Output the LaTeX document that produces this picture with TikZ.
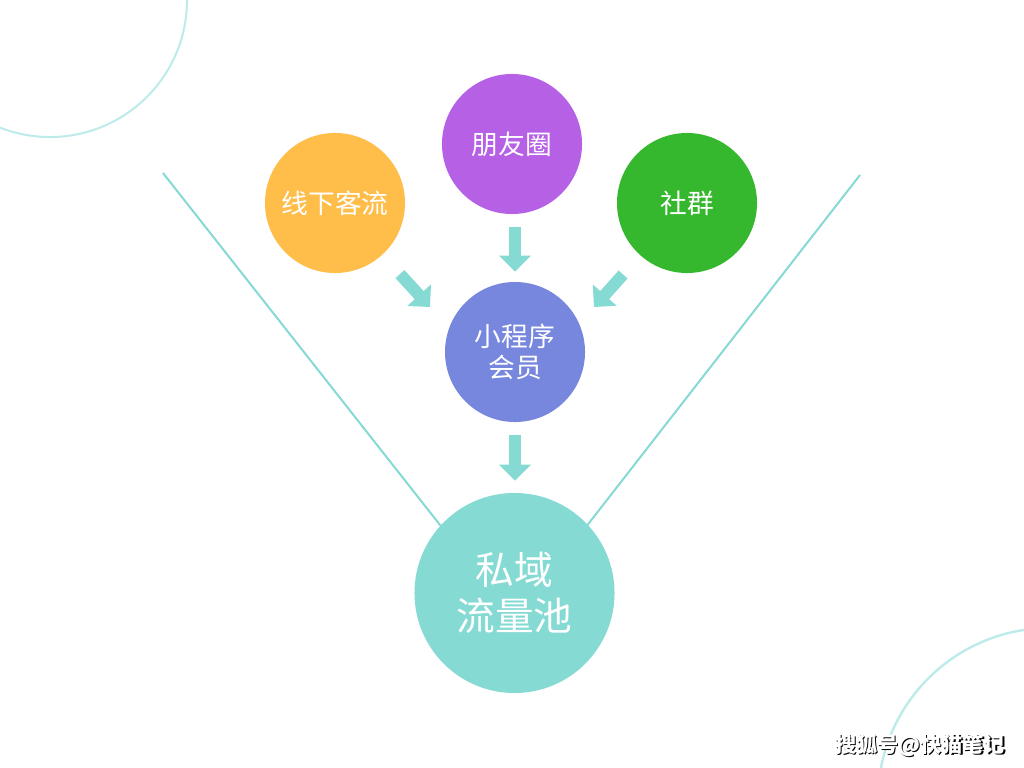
\documentclass[tikz,border=0pt]{standalone}
\usepackage{fontspec}
\setmainfont{Noto Sans CJK SC}
\usetikzlibrary{arrows.meta}
\definecolor{friendpurple}{HTML}{B660E6}
\definecolor{shoporange}{HTML}{FFBD4A}
\definecolor{groupgreen}{HTML}{36B82E}
\definecolor{memberblue}{HTML}{7787DD}
\definecolor{poolteal}{HTML}{85DAD3}
\definecolor{ringteal}{HTML}{BDEBEA}

\begin{document}
\begin{tikzpicture}[x=0.025cm, y=-0.025cm,
  bubble/.style={circle, minimum size=3.5cm, inner sep=0pt, text=white,
    align=center, font=\fontsize{19}{22}\selectfont},
  flow/.style={draw=poolteal, line width=0.3cm,
    -{Triangle[width=0.775cm, length=0.4cm]}},
  funnel/.style={draw=poolteal, line width=0.05cm}]
  \fill[white] (0,0) rectangle (1024,768);
  \useasboundingbox (0,0) rectangle (1024,768);
  % corner rings
  \begin{scope}
    \clip (0,0) rectangle (1024,768);
    \draw[ringteal, line width=0.05cm] (50,0) circle[radius=3.425cm];
    \draw[ringteal, line width=0.06cm] (1050,800) circle[radius=4.3cm];
  \end{scope}
  % funnel sides
  \coordinate (leftTop) at (163,173);
  \coordinate (leftEnd) at (455,544);
  \coordinate (rightTop) at (860,175);
  \coordinate (rightEnd) at (575,541);
  \draw[funnel] (leftTop) -- (leftEnd);
  \draw[funnel] (rightTop) -- (rightEnd);
  % bubbles
  \node[bubble, fill=friendpurple] (pyq) at (512,144) {朋友圈};
  \node[bubble, fill=shoporange] (xxkl) at (335,203) {线下客流};
  \node[bubble, fill=groupgreen] (sq) at (687,203) {社群};
  \node[bubble, fill=memberblue] (xcx) at (515,352) {小程序\\会员};
  \node[bubble, fill=poolteal, minimum size=5cm,
    font=\fontsize{27.5}{33}\selectfont] (pool) at (514.5,593) {私域\\流量池};
  % arrows
  \coordinate (inL) at (430,307);
  \coordinate (inR) at (594,307);
  \draw[flow, shorten <=0.325cm, shorten >=0.25cm] (pyq.south -| xcx) -- (xcx.north);
  \draw[flow, shorten <=0.65cm] (xxkl) -- (inL);
  \draw[flow, shorten <=0.64cm] (sq) -- (inR);
  \draw[flow, shorten <=0.325cm, shorten >=0.3cm] (xcx.south) -- (pool.north -| xcx);
  % watermark
  \node[text=black, font=\fontsize{15}{15}\selectfont\bfseries] at (921.5,746.5) {搜狐号@快猫笔记};
  \node[text=white, font=\fontsize{15}{15}\selectfont\bfseries] (mark) at (920,745) {搜狐号@快猫笔记};
\end{tikzpicture}
\end{document}
